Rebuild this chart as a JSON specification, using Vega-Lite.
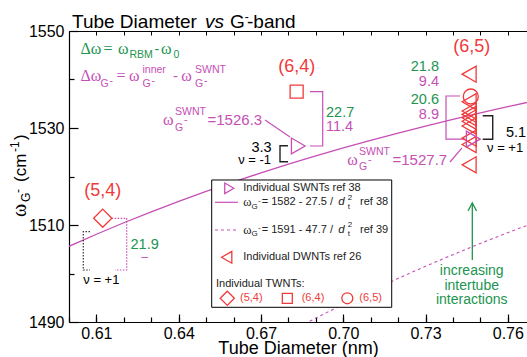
{
 "$schema": "https://vega.github.io/schema/vega-lite/v6.json",
 "width": 458, "height": 291,
 "autosize": {"type": "none"},
 "padding": {"left": 69, "top": 31, "right": 0, "bottom": 35},
 "config": {"font": "Liberation Sans", "view": {"stroke": null}, "axis": {"grid": false}},
 "datasets": {
  "curves": [
   {"s":"a","d":0.60,"w":1505.61},{"s":"a","d":0.61,"w":1508.09},{"s":"a","d":0.62,"w":1510.46},{"s":"a","d":0.63,"w":1512.71},{"s":"a","d":0.64,"w":1514.86},{"s":"a","d":0.65,"w":1516.91},{"s":"a","d":0.66,"w":1518.87},{"s":"a","d":0.67,"w":1520.74},{"s":"a","d":0.68,"w":1522.53},{"s":"a","d":0.69,"w":1524.24},{"s":"a","d":0.70,"w":1525.88},{"s":"a","d":0.71,"w":1527.45},{"s":"a","d":0.72,"w":1528.95},{"s":"a","d":0.73,"w":1530.40},{"s":"a","d":0.74,"w":1531.78},{"s":"a","d":0.75,"w":1533.11},{"s":"a","d":0.76,"w":1534.39},{"s":"a","d":0.77,"w":1535.62},
   {"s":"b","d":0.68,"w":1487.84},{"s":"b","d":0.69,"w":1490.81},{"s":"b","d":0.70,"w":1493.65},{"s":"b","d":0.71,"w":1496.38},{"s":"b","d":0.72,"w":1498.99},{"s":"b","d":0.73,"w":1501.49},{"s":"b","d":0.74,"w":1503.89},{"s":"b","d":0.75,"w":1506.20},{"s":"b","d":0.76,"w":1508.42},{"s":"b","d":0.77,"w":1510.55}
  ],
  "box": [{"d":0.65203,"d2":0.71767,"w":1519.28,"w2":1493.03}],
  "lines": [
   {"id":"A","s":"m","o":1,"d":0.68788,"w":1537.49},{"id":"A","s":"m","o":2,"d":0.69251,"w":1537.49},{"id":"A","s":"m","o":3,"d":0.69251,"w":1526.29},{"id":"A","s":"m","o":4,"d":0.68788,"w":1526.29},
   {"id":"L1","s":"m","o":1,"d":0.67147,"w":1531.65},{"id":"L1","s":"m","o":2,"d":0.68058,"w":1528.14},
   {"id":"C","s":"m","o":1,"d":0.74257,"w":1536.6},{"id":"C","s":"m","o":2,"d":0.73747,"w":1536.6},{"id":"C","s":"m","o":3,"d":0.73747,"w":1527.7},{"id":"C","s":"m","o":4,"d":0.74439,"w":1527.7},
   {"id":"L2","s":"m","o":1,"d":0.73893,"w":1522.99},{"id":"L2","s":"m","o":2,"d":0.7433,"w":1525.88},
   {"id":"LA","s":"m","o":1,"d":0.65324,"w":1514.68},{"id":"LA","s":"m","o":2,"d":0.66162,"w":1514.68},
   {"id":"B","s":"k","o":1,"d":0.67985,"w":1526.35},{"id":"B","s":"k","o":2,"d":0.67694,"w":1526.35},{"id":"B","s":"k","o":3,"d":0.67694,"w":1523.05},{"id":"B","s":"k","o":4,"d":0.67985,"w":1523.05},
   {"id":"D","s":"k","o":1,"d":0.75085,"w":1532.54},{"id":"D","s":"k","o":2,"d":0.7545,"w":1532.54},{"id":"D","s":"k","o":3,"d":0.7545,"w":1527.67},{"id":"D","s":"k","o":4,"d":0.75085,"w":1527.67},
   {"id":"E","s":"md","o":1,"d":0.61557,"w":1511.38},{"id":"E","s":"md","o":2,"d":0.62104,"w":1511.38},{"id":"E","s":"md","o":3,"d":0.62104,"w":1500.72},{"id":"E","s":"md","o":4,"d":0.61677,"w":1500.72},
   {"id":"F","s":"kd","o":1,"d":0.60766,"w":1508.62},{"id":"F","s":"kd","o":2,"d":0.60521,"w":1508.62},{"id":"F","s":"kd","o":3,"d":0.60521,"w":1500.72},{"id":"F","s":"kd","o":4,"d":0.60766,"w":1500.72},
   {"id":"G1","s":"g","o":1,"d":0.74706,"w":1502.78},{"id":"G1","s":"g","o":2,"d":0.74706,"w":1514.54},
   {"id":"G2","s":"g","o":1,"d":0.74549,"w":1512.89},{"id":"G2","s":"g","o":2,"d":0.74706,"w":1514.54},{"id":"G2","s":"g","o":3,"d":0.74862,"w":1512.89},
   {"id":"LB","s":"mdash","o":1,"d":0.65324,"w":1508.97},{"id":"LB","s":"mdash","o":2,"d":0.66162,"w":1508.97}
  ],
  "pts": [
   {"k":"dwnt","d":0.7459,"w":1541.1},{"k":"dwnt","d":0.7459,"w":1535.4},{"k":"dwnt","d":0.7459,"w":1533.5},{"k":"dwnt","d":0.7459,"w":1532.8},{"k":"dwnt","d":0.7459,"w":1532.1},{"k":"dwnt","d":0.7459,"w":1531.4},{"k":"dwnt","d":0.7459,"w":1530.4},{"k":"dwnt","d":0.7459,"w":1527.9},{"k":"dwnt","d":0.7459,"w":1526.6},{"k":"dwnt","d":0.7459,"w":1522.4},
   {"k":"t65","d":0.7465,"w":1536.5},
   {"k":"t64","d":0.6830,"w":1537.5},
   {"k":"t54","d":0.6123,"w":1511.4},
   {"k":"swnt","d":0.6836,"w":1526.3},{"k":"swnt","d":0.7474,"w":1527.7},
   {"k":"lswnt","d":0.65845,"w":1517.57},{"k":"ldwnt","d":0.6575,"w":1503.34},{"k":"l54","d":0.65772,"w":1494.89},{"k":"l64","d":0.6796,"w":1494.89},{"k":"l65","d":0.70148,"w":1494.89}
  ],
  "txt": [
   {"g":"ti","t":"Tube Diameter","d":0.60109,"w":1550.52},{"g":"ti","t":"G","d":0.65871,"w":1550.52},{"g":"ti","t":"-band","d":0.6649,"w":1550.52},
   {"g":"tiI","t":"vs","d":0.64959,"w":1550.52},
   {"g":"tiS","t":"-","d":0.6641,"w":1552.14},
   {"g":"gS16","t":"Δω","d":0.60419,"w":1545.2},{"g":"gS16","t":"=","d":0.61258,"w":1545.2},{"g":"gS16","t":"ω","d":0.61787,"w":1545.2},{"g":"gS16","t":"ω","d":0.63355,"w":1545.2},
   {"g":"gs11","t":"RBM","d":0.62206,"w":1544.43},{"g":"gs11","t":"0","d":0.63811,"w":1544.43},
   {"g":"gd14","t":"-","d":0.63118,"w":1545.2},
   {"g":"mS16","t":"Δω","d":0.60419,"w":1539.69},{"g":"mS16","t":"=","d":0.61732,"w":1539.69},{"g":"mS16","t":"ω","d":0.62188,"w":1539.69},{"g":"mS16","t":"ω","d":0.64093,"w":1539.69},{"g":"mS16","t":"ω","d":0.63428,"w":1530.62},{"g":"mS16","t":"ω","d":0.70148,"w":1522.37},
   {"g":"ms11","t":"G","d":0.61149,"w":1538.45},{"g":"ms11","t":"-","d":0.61477,"w":1539.11},{"g":"ms11","t":"inner","d":0.62680,"w":1541.44},{"g":"ms11","t":"G","d":0.62680,"w":1538.45},{"g":"ms11","t":"-","d":0.63008,"w":1539.11},{"g":"ms11","t":"SWNT","d":0.64594,"w":1541.44},{"g":"ms11","t":"G","d":0.64594,"w":1538.45},{"g":"ms11","t":"-","d":0.64922,"w":1539.11},
   {"g":"ms11","t":"G","d":0.63865,"w":1529.48},{"g":"ms11","t":"-","d":0.64193,"w":1530.97},{"g":"ms11","t":"SWNT","d":0.63865,"w":1532.68},
   {"g":"ms11","t":"G","d":0.70574,"w":1521.24},{"g":"ms11","t":"-","d":0.70902,"w":1522.72},{"g":"ms11","t":"SWNT","d":0.70574,"w":1524.43},
   {"g":"m15a","t":"-","d":0.63792,"w":1539.69},{"g":"m15a","t":"=1526.3","d":0.6505,"w":1530.62},{"g":"m15a","t":"=1527.7","d":0.71796,"w":1522.37},
   {"g":"gNL","t":"22.7","d":0.69371,"w":1533.03},{"g":"gNL","t":"21.9","d":0.62243,"w":1505.88},
   {"g":"gNR","t":"21.8","d":0.73491,"w":1542.64},{"g":"gNR","t":"20.6","d":0.73491,"w":1535.77},
   {"g":"mNL","t":"11.4","d":0.69371,"w":1530.27},
   {"g":"mNR","t":"9.4","d":0.73491,"w":1539.55},{"g":"mNR","t":"8.9","d":0.73491,"w":1532.68},
   {"g":"kNR","t":"3.3","d":0.67391,"w":1525.88},
   {"g":"kNL","t":"5.1","d":0.75934,"w":1528.91},
   {"g":"kuR","t":"ν = -1","d":0.67366,"w":1523.40},
   {"g":"kuL","t":"ν = +1","d":0.75242,"w":1525.81},{"g":"kuL","t":"ν = +1","d":0.60521,"w":1498.66},
   {"g":"red","t":"(6,4)","d":0.68303,"w":1542.64},{"g":"red","t":"(6,5)","d":0.74684,"w":1546.76},{"g":"red","t":"(5,4)","d":0.61229,"w":1517.11},
   {"g":"mdash","t":"–","d":0.62753,"w":1503.34},
   {"g":"leg","t":"Individual SWNTs ref 38","d":0.66356,"w":1517.57},{"g":"leg","t":"= 1582 - 27.5 /","d":0.67026,"w":1514.68},{"g":"leg","t":"ref 38","d":0.70611,"w":1514.68},{"g":"leg","t":"= 1591 - 47.7 /","d":0.67026,"w":1508.97},{"g":"leg","t":"ref 39","d":0.70611,"w":1508.97},{"g":"leg","t":"Individual DWNTs ref 26","d":0.66356,"w":1503.34},{"g":"leg","t":"Individual TWNTs:","d":0.6536,"w":1497.84},
   {"g":"legW","t":"ω","d":0.66356,"w":1514.68},{"g":"legW","t":"ω","d":0.66356,"w":1508.97},
   {"g":"legI","t":"d","d":0.6982,"w":1514.68},{"g":"legI","t":"d","d":0.6982,"w":1508.97},
   {"g":"legS","t":"G","d":0.66655,"w":1513.81},{"g":"legS","t":"-","d":0.66892,"w":1514.99},{"g":"legS","t":"2","d":0.70162,"w":1515.61},{"g":"legS","t":"t","d":0.70162,"w":1513.81},
   {"g":"legS","t":"G","d":0.66655,"w":1508.10},{"g":"legS","t":"-","d":0.66892,"w":1509.28},{"g":"legS","t":"2","d":0.70162,"w":1509.90},{"g":"legS","t":"t","d":0.70162,"w":1508.10},
   {"g":"legR","t":"(5,4)","d":0.66235,"w":1494.89},{"g":"legR","t":"(6,4)","d":0.68485,"w":1494.89},{"g":"legR","t":"(6,5)","d":0.70585,"w":1494.89},
   {"g":"arr","t":"increasing","d":0.74684,"w":1500.58},{"g":"arr","t":"intertube","d":0.74684,"w":1497.48},{"g":"arr","t":"interactions","d":0.74684,"w":1494.54},
   {"g":"yW","t":"ω","d":0.58432,"w":1511.65},
   {"g":"yT","t":"(cm","d":0.58432,"w":1518.87},{"g":"yT","t":")","d":0.58432,"w":1527.53},
   {"g":"yS","t":"G","d":0.58596,"w":1514.74},{"g":"yS","t":"-","d":0.58286,"w":1516.6},{"g":"yS","t":"-1","d":0.58177,"w":1525.05}
  ]
 },
 "encoding": {
  "x": {"field": "d", "type": "quantitative", "scale": {"domain": [0.6, 0.767], "nice": false, "zero": false}, "axis": null},
  "y": {"field": "w", "type": "quantitative", "scale": {"domain": [1490, 1550], "nice": false, "zero": false}, "axis": null}
 },
 "resolve": {"axis": {"x": "independent", "y": "independent"}},
 "layer": [
  {"data": {"name": "curves"}, "transform": [{"filter": "datum.s=='a'"}],
   "mark": {"type": "line", "clip": true, "color": "#c64fb6", "strokeWidth": 1.3},
   "encoding": {
    "x": {"field": "d", "type": "quantitative", "scale": {"domain": [0.6, 0.767], "nice": false, "zero": false},
     "axis": {"orient": "bottom", "values": [0.61, 0.64, 0.67, 0.7, 0.73, 0.76], "format": ".2f", "tickSize": -8, "tickColor": "black", "tickWidth": 1.2, "domainColor": "black", "domainWidth": 1.2, "labelFontSize": 16, "labelColor": "black", "labelPadding": 11, "labelFlush": false, "title": "Tube Diameter (nm)", "titleFontSize": 18, "titleFontWeight": "normal", "titleColor": "black", "titlePadding": -2, "grid": false}},
    "y": {"field": "w", "type": "quantitative", "scale": {"domain": [1490, 1550], "nice": false, "zero": false},
     "axis": {"orient": "left", "values": [1490, 1510, 1530, 1550], "format": "d", "tickSize": -9, "tickColor": "black", "tickWidth": 1.2, "domainColor": "black", "domainWidth": 1.2, "labelFontSize": 16, "labelColor": "black", "labelPadding": 14, "labelFlush": false, "title": null, "grid": false}}
   }},
  {"data": {"name": "curves"}, "transform": [{"filter": "datum.s=='b'"}],
   "mark": {"type": "line", "clip": true, "color": "#c64fb6", "strokeWidth": 1.1, "strokeDash": [3, 3]},
   "encoding": {
    "x": {"field": "d", "type": "quantitative", "scale": {"domain": [0.6, 0.767], "nice": false, "zero": false},
     "axis": {"orient": "bottom", "values": [0.6, 0.61, 0.62, 0.63, 0.64, 0.65, 0.66, 0.67, 0.68, 0.69, 0.7, 0.71, 0.72, 0.73, 0.74, 0.75, 0.76], "tickSize": -5, "tickColor": "black", "tickWidth": 1.2, "labels": false, "domain": false, "title": null, "grid": false}},
    "y": {"field": "w", "type": "quantitative", "scale": {"domain": [1490, 1550], "nice": false, "zero": false},
     "axis": {"orient": "left", "values": [1500, 1520, 1540], "tickSize": -5, "tickColor": "black", "tickWidth": 1.2, "labels": false, "domain": false, "title": null, "grid": false}}
   }},
  {"data": {"name": "box"},
   "mark": {"type": "rect", "fill": "white", "stroke": "black", "strokeWidth": 1},
   "encoding": {
    "x": {"field": "d", "type": "quantitative", "scale": {"domain": [0.6, 0.767], "nice": false, "zero": false},
     "axis": {"orient": "top", "values": [0.6, 0.61, 0.62, 0.63, 0.64, 0.65, 0.66, 0.67, 0.68, 0.69, 0.7, 0.71, 0.72, 0.73, 0.74, 0.75, 0.76], "tickSize": -4, "tickColor": "black", "tickWidth": 1, "labels": false, "domain": true, "domainColor": "black", "domainWidth": 1.2, "title": null, "grid": false}},
    "x2": {"field": "d2"}, "y2": {"field": "w2"}
   }},
  {"data": {"name": "lines"}, "transform": [{"filter": "datum.s=='m'"}], "mark": {"type": "line", "color": "#c64fb6", "strokeWidth": 1.2}, "encoding": {"detail": {"field": "id"}, "order": {"field": "o"}}},
  {"data": {"name": "lines"}, "transform": [{"filter": "datum.s=='mdash'"}], "mark": {"type": "line", "color": "#c64fb6", "strokeWidth": 1.1, "strokeDash": [3, 3]}, "encoding": {"detail": {"field": "id"}, "order": {"field": "o"}}},
  {"data": {"name": "lines"}, "transform": [{"filter": "datum.s=='k'"}], "mark": {"type": "line", "color": "#222222", "strokeWidth": 1.4}, "encoding": {"detail": {"field": "id"}, "order": {"field": "o"}}},
  {"data": {"name": "lines"}, "transform": [{"filter": "datum.s=='md'"}], "mark": {"type": "line", "color": "#c64fb6", "strokeWidth": 1.2, "strokeDash": [1.5, 1.5]}, "encoding": {"detail": {"field": "id"}, "order": {"field": "o"}}},
  {"data": {"name": "lines"}, "transform": [{"filter": "datum.s=='kd'"}], "mark": {"type": "line", "color": "#333333", "strokeWidth": 1.2, "strokeDash": [1.5, 1.5]}, "encoding": {"detail": {"field": "id"}, "order": {"field": "o"}}},
  {"data": {"name": "lines"}, "transform": [{"filter": "datum.s=='g'"}], "mark": {"type": "line", "color": "#21944f", "strokeWidth": 1.3}, "encoding": {"detail": {"field": "id"}, "order": {"field": "o"}}},
  {"data": {"name": "pts"},
   "mark": {"type": "point", "filled": false, "opacity": 1, "strokeWidth": 1.3},
   "encoding": {
    "shape": {"field": "k", "type": "nominal", "legend": null, "scale": {"domain": ["dwnt", "t65", "t64", "t54", "swnt", "lswnt", "ldwnt", "l54", "l64", "l65"], "range": ["triangle-left", "circle", "square", "diamond", "triangle-right", "triangle-right", "triangle-left", "diamond", "square", "circle"]}},
    "size": {"field": "k", "type": "nominal", "legend": null, "scale": {"type": "ordinal", "domain": ["dwnt", "t65", "t64", "t54", "swnt", "lswnt", "ldwnt", "l54", "l64", "l65"], "range": [260, 225, 170, 330, 250, 110, 140, 200, 100, 120]}},
    "color": {"field": "k", "type": "nominal", "legend": null, "scale": {"domain": ["dwnt", "t65", "t64", "t54", "swnt", "lswnt", "ldwnt", "l54", "l64", "l65"], "range": ["#f03a3a", "#f03a3a", "#f03a3a", "#f03a3a", "#c64fb6", "#c64fb6", "#f03a3a", "#f03a3a", "#f03a3a", "#f03a3a"]}}
   }},
  {"data": {"name": "txt"}, "transform": [{"filter": "datum.g=='ti'"}], "mark": {"type": "text", "fontSize": 19, "align": "left", "baseline": "alphabetic", "color": "black"}, "encoding": {"text": {"field": "t"}}},
  {"data": {"name": "txt"}, "transform": [{"filter": "datum.g=='tiI'"}], "mark": {"type": "text", "fontSize": 19, "fontStyle": "italic", "align": "left", "baseline": "alphabetic", "color": "black"}, "encoding": {"text": {"field": "t"}}},
  {"data": {"name": "txt"}, "transform": [{"filter": "datum.g=='tiS'"}], "mark": {"type": "text", "fontSize": 12, "align": "left", "baseline": "alphabetic", "color": "black"}, "encoding": {"text": {"field": "t"}}},
  {"data": {"name": "txt"}, "transform": [{"filter": "datum.g=='gS16'"}], "mark": {"type": "text", "font": "Liberation Serif", "fontSize": 16, "align": "left", "baseline": "alphabetic", "color": "#21944f"}, "encoding": {"text": {"field": "t"}}},
  {"data": {"name": "txt"}, "transform": [{"filter": "datum.g=='gs11'"}], "mark": {"type": "text", "fontSize": 10.5, "align": "left", "baseline": "alphabetic", "color": "#21944f"}, "encoding": {"text": {"field": "t"}}},
  {"data": {"name": "txt"}, "transform": [{"filter": "datum.g=='gd14'"}], "mark": {"type": "text", "fontSize": 14, "align": "left", "baseline": "alphabetic", "color": "#21944f"}, "encoding": {"text": {"field": "t"}}},
  {"data": {"name": "txt"}, "transform": [{"filter": "datum.g=='mS16'"}], "mark": {"type": "text", "font": "Liberation Serif", "fontSize": 16, "align": "left", "baseline": "alphabetic", "color": "#c64fb6"}, "encoding": {"text": {"field": "t"}}},
  {"data": {"name": "txt"}, "transform": [{"filter": "datum.g=='ms11'"}], "mark": {"type": "text", "fontSize": 10.5, "align": "left", "baseline": "alphabetic", "color": "#c64fb6"}, "encoding": {"text": {"field": "t"}}},
  {"data": {"name": "txt"}, "transform": [{"filter": "datum.g=='m15a'"}], "mark": {"type": "text", "fontSize": 15, "align": "left", "baseline": "alphabetic", "color": "#c64fb6"}, "encoding": {"text": {"field": "t"}}},
  {"data": {"name": "txt"}, "transform": [{"filter": "datum.g=='gNL'"}], "mark": {"type": "text", "fontSize": 14.5, "align": "left", "baseline": "middle", "color": "#21944f"}, "encoding": {"text": {"field": "t"}}},
  {"data": {"name": "txt"}, "transform": [{"filter": "datum.g=='gNR'"}], "mark": {"type": "text", "fontSize": 14.5, "align": "right", "baseline": "middle", "color": "#21944f"}, "encoding": {"text": {"field": "t"}}},
  {"data": {"name": "txt"}, "transform": [{"filter": "datum.g=='mNL'"}], "mark": {"type": "text", "fontSize": 14.5, "align": "left", "baseline": "middle", "color": "#c64fb6"}, "encoding": {"text": {"field": "t"}}},
  {"data": {"name": "txt"}, "transform": [{"filter": "datum.g=='mNR'"}], "mark": {"type": "text", "fontSize": 14.5, "align": "right", "baseline": "middle", "color": "#c64fb6"}, "encoding": {"text": {"field": "t"}}},
  {"data": {"name": "txt"}, "transform": [{"filter": "datum.g=='kNR'"}], "mark": {"type": "text", "fontSize": 14.5, "align": "right", "baseline": "middle", "color": "black"}, "encoding": {"text": {"field": "t"}}},
  {"data": {"name": "txt"}, "transform": [{"filter": "datum.g=='kNL'"}], "mark": {"type": "text", "fontSize": 14.5, "align": "left", "baseline": "middle", "color": "black"}, "encoding": {"text": {"field": "t"}}},
  {"data": {"name": "txt"}, "transform": [{"filter": "datum.g=='kuR'"}], "mark": {"type": "text", "fontSize": 13, "align": "right", "baseline": "middle", "color": "black"}, "encoding": {"text": {"field": "t"}}},
  {"data": {"name": "txt"}, "transform": [{"filter": "datum.g=='kuL'"}], "mark": {"type": "text", "fontSize": 13, "align": "left", "baseline": "middle", "color": "black"}, "encoding": {"text": {"field": "t"}}},
  {"data": {"name": "txt"}, "transform": [{"filter": "datum.g=='red'"}], "mark": {"type": "text", "fontSize": 18, "align": "center", "baseline": "middle", "color": "#f03a3a"}, "encoding": {"text": {"field": "t"}}},
  {"data": {"name": "txt"}, "transform": [{"filter": "datum.g=='mdash'"}], "mark": {"type": "text", "fontSize": 12, "align": "center", "baseline": "middle", "color": "#c64fb6"}, "encoding": {"text": {"field": "t"}}},
  {"data": {"name": "txt"}, "transform": [{"filter": "datum.g=='leg'"}], "mark": {"type": "text", "fontSize": 11, "align": "left", "baseline": "middle", "color": "#222222"}, "encoding": {"text": {"field": "t"}}},
  {"data": {"name": "txt"}, "transform": [{"filter": "datum.g=='legW'"}], "mark": {"type": "text", "font": "Liberation Serif", "fontSize": 12.5, "align": "left", "baseline": "middle", "color": "#222222"}, "encoding": {"text": {"field": "t"}}},
  {"data": {"name": "txt"}, "transform": [{"filter": "datum.g=='legI'"}], "mark": {"type": "text", "fontSize": 11.5, "fontStyle": "italic", "align": "left", "baseline": "middle", "color": "#222222"}, "encoding": {"text": {"field": "t"}}},
  {"data": {"name": "txt"}, "transform": [{"filter": "datum.g=='legS'"}], "mark": {"type": "text", "fontSize": 8, "align": "left", "baseline": "middle", "color": "#222222"}, "encoding": {"text": {"field": "t"}}},
  {"data": {"name": "txt"}, "transform": [{"filter": "datum.g=='legR'"}], "mark": {"type": "text", "fontSize": 11, "align": "left", "baseline": "middle", "color": "#f03a3a"}, "encoding": {"text": {"field": "t"}}},
  {"data": {"name": "txt"}, "transform": [{"filter": "datum.g=='arr'"}], "mark": {"type": "text", "fontSize": 14, "align": "center", "baseline": "middle", "color": "#21944f"}, "encoding": {"text": {"field": "t"}}},
  {"data": {"name": "txt"}, "transform": [{"filter": "datum.g=='yW'"}], "mark": {"type": "text", "font": "Liberation Serif", "fontSize": 20, "angle": 270, "align": "left", "baseline": "alphabetic", "color": "black"}, "encoding": {"text": {"field": "t"}}},
  {"data": {"name": "txt"}, "transform": [{"filter": "datum.g=='yT'"}], "mark": {"type": "text", "fontSize": 17, "angle": 270, "align": "left", "baseline": "alphabetic", "color": "black"}, "encoding": {"text": {"field": "t"}}},
  {"data": {"name": "txt"}, "transform": [{"filter": "datum.g=='yS'"}], "mark": {"type": "text", "fontSize": 12, "angle": 270, "align": "left", "baseline": "alphabetic", "color": "black"}, "encoding": {"text": {"field": "t"}}}
 ]
}
